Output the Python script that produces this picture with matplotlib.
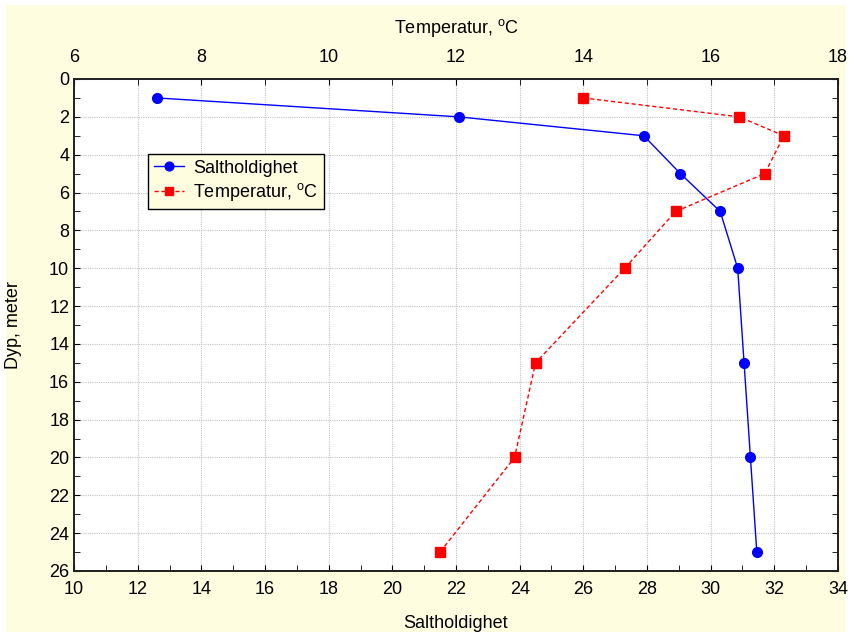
import numpy as np
import matplotlib.pyplot as plt
from matplotlib.patches import Rectangle
from matplotlib.ticker import MultipleLocator

plt.rcParams['font.family'] = ['Liberation Sans', 'DejaVu Sans']
plt.rcParams['font.size'] = 13

# depth profile (meter)
depth = [1, 2, 3, 5, 7, 10, 15, 20, 25]
salinity = [12.6, 22.08, 27.9, 29.05, 30.3, 30.85, 31.05, 31.25, 31.45]
temperature = [14.0, 16.45, 17.15, 16.85, 15.45, 14.65, 13.25, 12.92, 11.75]

bg = "#fefde0"

fig = plt.figure(figsize=(8.49, 6.35), dpi=100)
fig.patch.set_facecolor("white")
fig.add_artist(Rectangle((6 / 849, 3 / 635), 839 / 849, 627 / 635,
                         transform=fig.transFigure, facecolor=bg,
                         edgecolor="none", zorder=-10))
ax = fig.add_axes([0.0872, 0.1008, 0.8998, 0.7748])
ax.set_facecolor("white")

l1, = ax.plot(salinity, depth, color="blue", lw=1, marker="o", ms=7,
              label="Saltholdighet", zorder=3)
ax.set_xlim(10, 34)
ax.set_ylim(26, 0)
ax.set_xlabel("Saltholdighet")
ax.xaxis.set_label_coords(0.5, -0.09)
ax.set_ylabel("Dyp, meter")
ax.yaxis.set_label_coords(-0.068, 0.5)
ax.xaxis.set_major_locator(MultipleLocator(2))
ax.xaxis.set_minor_locator(MultipleLocator(1))
ax.yaxis.set_major_locator(MultipleLocator(2))
ax.yaxis.set_minor_locator(MultipleLocator(1))
ax.grid(True, which="major", color="#c4c4c4", ls=(0, (1, 1)), lw=0.8)
ax.tick_params(which="both", direction="in", right=True, length=4,
               labelright=False)
ax.tick_params(axis="x", pad=7)

ax2 = ax.twiny()
l2, = ax2.plot(temperature, depth, color="red", lw=1, ls=(0, (3, 2)),
               marker="s", ms=7, label="Temperatur, $\\mathregular{^oC}$",
               zorder=3)
ax2.set_xlim(6, 18)
ax2.xaxis.set_major_locator(MultipleLocator(2))
ax2.xaxis.set_minor_locator(MultipleLocator(1))
ax2.tick_params(which="both", direction="in", length=4, pad=9)
ax2.set_xlabel("Temperatur, $\\mathregular{^oC}$", labelpad=12)

for a in (ax, ax2):
    for s in a.spines.values():
        s.set_color("#202020")
        s.set_linewidth(1.2)

leg = ax2.legend(handles=[l1, l2], loc="upper left",
                 bbox_to_anchor=(0.097, 0.847), fancybox=False,
                 framealpha=1, facecolor=bg, edgecolor="black",
                 handlelength=1.7, handletextpad=0.5, borderpad=0.3,
                 labelspacing=0.25, borderaxespad=0, markerscale=0.9)
leg.get_frame().set_linewidth(1)

fig.savefig("out.png", facecolor="white")
